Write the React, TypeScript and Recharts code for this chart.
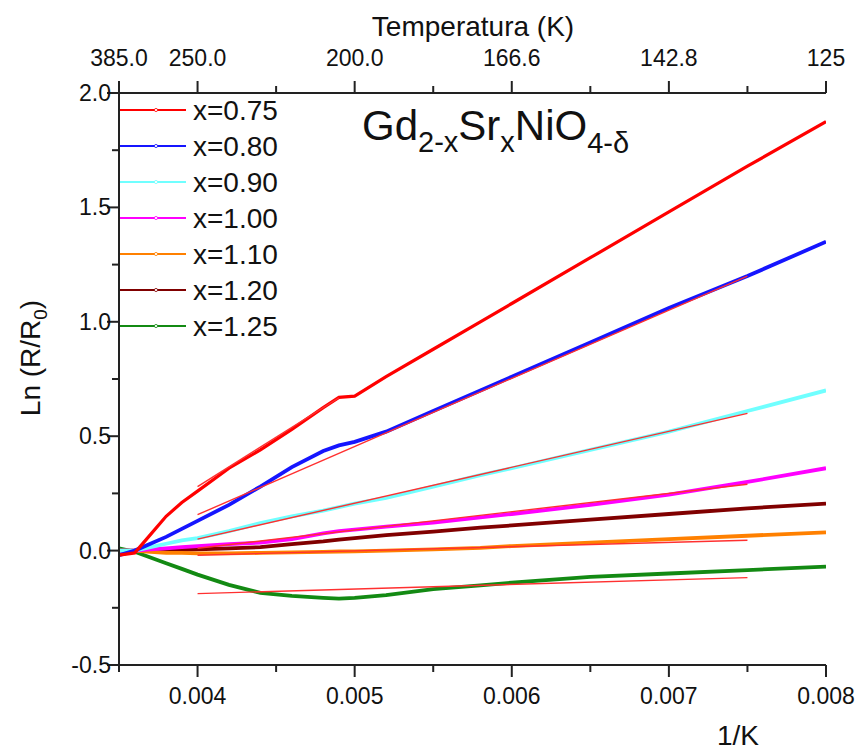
import React from 'react';
import { ComposedChart, Line, XAxis, YAxis, Legend } from 'recharts';

// 1/T grid (1/K) shared by all measured curves
const invT = [0.0035, 0.0036, 0.0037, 0.0038, 0.0039, 0.004, 0.0042, 0.0044, 0.0046, 0.0048, 0.0049, 0.005, 0.0052, 0.0055, 0.0058, 0.006, 0.0065, 0.007, 0.0075, 0.008];

const lnR075 = [-0.02, -0.01, 0.07, 0.15, 0.21, 0.26, 0.36, 0.44, 0.53, 0.625, 0.67, 0.675, 0.76, 0.88, 1.0, 1.08, 1.28, 1.48, 1.68, 1.875];
const lnR080 = [-0.02, 0.0, 0.03, 0.06, 0.095, 0.13, 0.2, 0.28, 0.365, 0.435, 0.46, 0.475, 0.52, 0.61, 0.7, 0.76, 0.91, 1.06, 1.2, 1.35];
const lnR090 = [0.0, 0.0, 0.015, 0.03, 0.045, 0.055, 0.085, 0.12, 0.15, 0.175, 0.19, 0.205, 0.23, 0.28, 0.33, 0.36, 0.44, 0.52, 0.61, 0.7];
const lnR100 = [0.0, 0.0, 0.005, 0.01, 0.015, 0.02, 0.028, 0.035, 0.05, 0.075, 0.085, 0.092, 0.105, 0.122, 0.145, 0.16, 0.2, 0.245, 0.3, 0.36];
const lnR110 = [0.0, 0.0, -0.005, -0.01, -0.01, -0.012, -0.012, -0.01, -0.008, -0.006, -0.004, -0.003, 0.0, 0.005, 0.012, 0.02, 0.035, 0.05, 0.065, 0.08];
const lnR120 = [0.0, 0.0, 0.0, 0.0, 0.003, 0.006, 0.01, 0.015, 0.028, 0.04, 0.048, 0.055, 0.068, 0.083, 0.1, 0.11, 0.135, 0.16, 0.185, 0.205];
const lnR125 = [0.01, -0.005, -0.03, -0.055, -0.08, -0.105, -0.15, -0.185, -0.198, -0.207, -0.21, -0.207, -0.195, -0.168, -0.152, -0.14, -0.115, -0.1, -0.085, -0.07];

// linear fits (start / end points)
const fit075 = { x: [0.004, 0.0049], y: [0.28, 0.668] };
const fit080 = { x: [0.004, 0.0075], y: [0.157, 1.2] };
const fit090 = { x: [0.004, 0.0075], y: [0.05, 0.6] };
const fit100 = { x: [0.004, 0.0075], y: [0.01, 0.29] };
const fit110 = { x: [0.004, 0.0075], y: [-0.02, 0.045] };
const fit125 = { x: [0.004, 0.0075], y: [-0.188, -0.118] };

const xTicks = [0.0035, 0.004, 0.0045, 0.005, 0.0055, 0.006, 0.0065, 0.007, 0.0075, 0.008];
const xLabels = ['', '0.004', '', '0.005', '', '0.006', '', '0.007', '', '0.008'];
const tempLabels = ['385.0', '250.0', '', '200.0', '', '166.6', '', '142.8', '', '125'];
const yTicks = [-0.5, -0.25, 0, 0.25, 0.5, 0.75, 1.0, 1.25, 1.5, 1.75, 2.0];
const yLabels = ['-0.5', '', '0.0', '', '0.5', '', '1.0', '', '1.5', '', '2.0'];

const series = [
  { key: 'x075', name: 'x=0.75', color: '#ff0000', values: lnR075 },
  { key: 'x080', name: 'x=0.80', color: '#1515ff', values: lnR080 },
  { key: 'x090', name: 'x=0.90', color: '#70ffff', values: lnR090 },
  { key: 'x100', name: 'x=1.00', color: '#ff00ff', values: lnR100 },
  { key: 'x110', name: 'x=1.10', color: '#ff8000', values: lnR110 },
  { key: 'x120', name: 'x=1.20', color: '#800000', values: lnR120 },
  { key: 'x125', name: 'x=1.25', color: '#138a13', values: lnR125 },
];
const fits = [fit075, fit080, fit090, fit100, fit110, fit125];

const table = invT.map((x, i) => {
  const row: Record<string, number> = { x };
  series.forEach(s => { row[s.key] = s.values[i]; });
  return row;
});

const FONT = '"Liberation Sans", Arial, sans-serif';
const AXIS = '#222';

const BottomTick = (props: any) => {
  const { x, y, index } = props;
  const label = xLabels[index];
  return (
    <g>
      <line x1={x} x2={x} y1={y} y2={y + (label ? 12 : 7)} stroke={AXIS} strokeWidth={2} />
      {label && (
        <text x={x} y={y + 31} textAnchor="middle" dominantBaseline="central" fontSize={23} fontFamily={FONT} fill="#111">{label}</text>
      )}
    </g>
  );
};

const TopTick = (props: any) => {
  const { x, y, index } = props;
  const label = tempLabels[index];
  return (
    <g>
      <line x1={x} x2={x} y1={y} y2={y - (label ? 12 : 7)} stroke={AXIS} strokeWidth={2} />
      {label && (
        <text x={x} y={y - 35} textAnchor="middle" dominantBaseline="central" fontSize={23} fontFamily={FONT} fill="#111">{label}</text>
      )}
    </g>
  );
};

const LeftTick = (props: any) => {
  const { x, y, index } = props;
  const label = yLabels[index];
  return (
    <g>
      <line x1={x} x2={x - (label ? 12 : 7)} y1={y} y2={y} stroke={AXIS} strokeWidth={2} />
      {label && (
        <text x={x - 8} y={y} textAnchor="end" dominantBaseline="central" fontSize={23} fontFamily={FONT} fill="#111">{label}</text>
      )}
    </g>
  );
};

const LegendBox = () => (
  <svg width={200} height={250} style={{ display: 'block' }}>
    {series.map((s, i) => {
      const cy = 18 + i * 36;
      return (
        <g key={s.key}>
          <line x1={0} x2={66} y1={cy} y2={cy} stroke={s.color} strokeWidth={2} />
          <circle cx={36} cy={cy} r={1.6} fill="#fff" stroke={s.color} strokeWidth={0.8} />
          <text x={73} y={cy} dominantBaseline="central" fontSize={28} fontFamily={FONT} fill="#111">{s.name}</text>
        </g>
      );
    })}
  </svg>
);

export default function App() {
  return (
    <div style={{ position: 'absolute', left: 0, top: 0, width: 860, height: 751, background: '#fff' }}>
      <ComposedChart width={860} height={751} data={table} margin={{ top: 0, right: 34, bottom: 0, left: 0 }}>
        <XAxis
          dataKey="x"
          type="number"
          domain={[0.0035, 0.008]}
          ticks={xTicks}
          interval={0}
          height={86}
          tickSize={0}
          tickMargin={0}
          tick={<BottomTick />}
          axisLine={{ stroke: AXIS, strokeWidth: 2 }}
          allowDataOverflow
        />
        <XAxis
          xAxisId="top"
          dataKey="x"
          orientation="top"
          type="number"
          domain={[0.0035, 0.008]}
          ticks={xTicks}
          interval={0}
          height={93}
          tickSize={0}
          tickMargin={0}
          tick={<TopTick />}
          axisLine={{ stroke: AXIS, strokeWidth: 2 }}
          allowDataOverflow
        />
        <YAxis
          type="number"
          domain={[-0.5, 2]}
          ticks={yTicks}
          interval={0}
          width={119}
          tickSize={0}
          tickMargin={0}
          tick={<LeftTick />}
          axisLine={{ stroke: AXIS, strokeWidth: 2 }}
          allowDataOverflow
        />
        <YAxis
          yAxisId="right"
          orientation="right"
          type="number"
          domain={[-0.5, 2]}
          width={0}
          tick={false}
          tickLine={false}
          axisLine={{ stroke: AXIS, strokeWidth: 2 }}
        />
        <Legend
          verticalAlign="middle"
          align="center"
          layout="horizontal"
          content={() => <LegendBox />}
          wrapperStyle={{ position: 'absolute', left: 120, top: 92, width: 200, height: 250 }}
        />
        {[...series].reverse().map(s => (
          <Line
            key={s.key}
            dataKey={s.key}
            name={s.name}
            stroke={s.color}
            strokeWidth={s.key === 'x075' ? 3.2 : 3.8}
            dot={false}
            type="linear"
            isAnimationActive={false}
          />
        ))}
        {fits.map((f, i) => (
          <Line
            key={'fit' + i}
            data={f.x.map((x, j) => ({ x, fit: f.y[j] }))}
            dataKey="fit"
            stroke="#ff3030"
            strokeWidth={1.4}
            dot={false}
            legendType="none"
            isAnimationActive={false}
          />
        ))}
      </ComposedChart>
      <svg width={860} height={751} style={{ position: 'absolute', left: 0, top: 0, pointerEvents: 'none' }}>
        <text x={473} y={36} textAnchor="middle" fontSize={28} fontFamily={FONT} fill="#111">Temperatura (K)</text>
        <text x={738} y={745} textAnchor="middle" fontSize={28} fontFamily={FONT} fill="#111">1/K</text>
        <text transform="translate(40,358) rotate(-90)" textAnchor="middle" fontSize={28} fontFamily={FONT} fill="#111">
          Ln (R/R<tspan dy={7} fontSize={19}>0</tspan><tspan dy={-7}>)</tspan>
        </text>
        <text x={362} y={140} fontSize={42} fontFamily={FONT} fill="#111">
          Gd<tspan dy={12} fontSize={29}>2-x</tspan><tspan dy={-12} fontSize={42}>Sr</tspan><tspan dy={12} fontSize={29}>x</tspan><tspan dy={-12} fontSize={42}>NiO</tspan><tspan dy={13} fontSize={29}>4-δ</tspan>
        </text>
      </svg>
    </div>
  );
}
